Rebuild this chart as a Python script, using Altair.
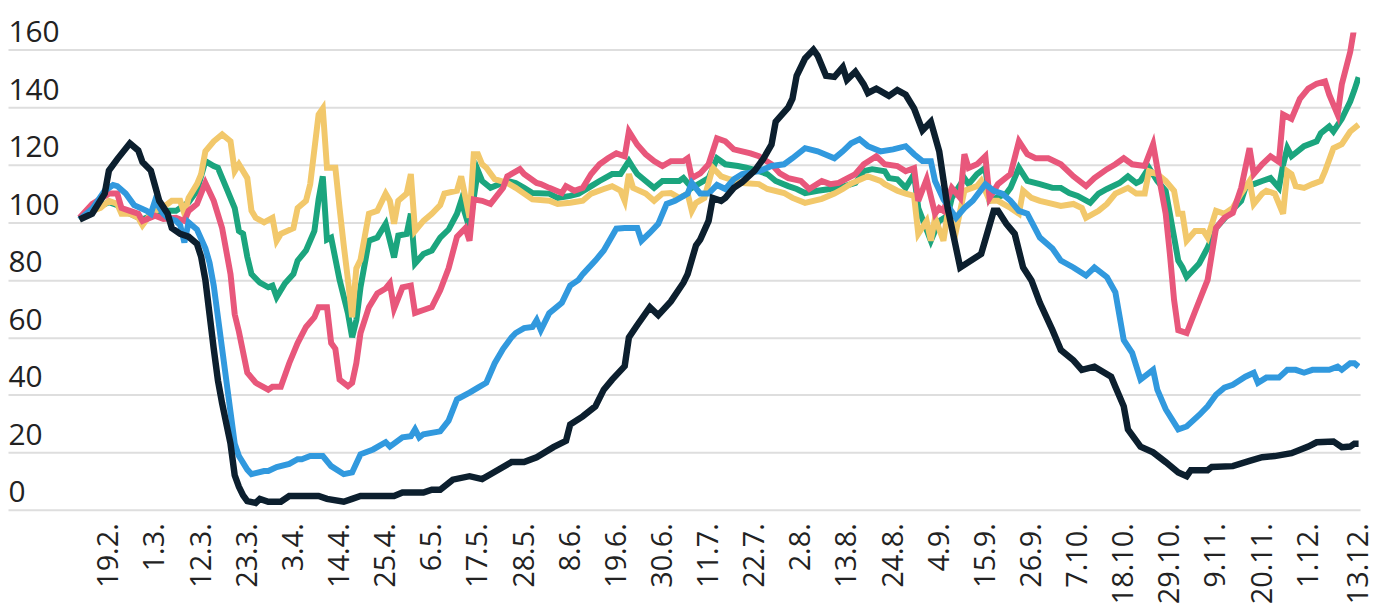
import altair as alt
import pandas as pd

# ---------------- data ----------------
black_dates = ["12.2", "15.2", "18.2", "19.2", "21.2", "24.2", "26.2", "27.2", "29.2", "2.3",
               "4.3", "5.3", "7.3", "9.3", "11.3", "12.3", "13.3", "14.3", "15.3", "16.3",
               "17.3", "18.3", "19.3", "20.3", "21.3", "22.3", "23.3", "25.3", "26.3", "28.3",
               "31.3", "2.4", "9.4", "11.4", "15.4", "17.4", "19.4", "27.4", "29.4", "4.5",
               "6.5", "8.5", "11.5", "15.5", "18.5", "20.5", "25.5", "28.5", "31.5", "4.6",
               "7.6", "8.6", "11.6", "14.6", "16.6", "18.6", "21.6", "22.6", "24.6", "27.6",
               "29.6", "2.7", "5.7", "6.7", "8.7", "9.7", "11.7", "12.7", "14.7", "15.7",
               "17.7", "19.7", "22.7", "24.7", "26.7", "27.7", "30.7", "31.7", "1.8", "3.8",
               "5.8", "6.8", "8.8", "10.8", "12.8", "13.8", "15.8", "17.8", "18.8", "20.8",
               "23.8", "25.8", "27.8", "29.8", "31.8", "2.9", "4.9", "6.9", "9.9", "14.9",
               "17.9", "18.9", "20.9", "22.9", "24.9", "26.9", "28.9", "1.10", "3.10", "6.10",
               "8.10", "11.10", "15.10", "16.10", "18.10", "19.10", "22.10", "25.10", "28.10", "31.10",
               "2.11", "3.11", "7.11", "8.11", "13.11", "17.11", "20.11", "23.11", "27.11", "1.12",
               "3.12", "7.12", "9.12", "11.12", "12.12", "13.12"]
black_values = [101, 103, 110, 118, 122, 127.5, 125, 121, 118, 107.5,
                103, 98, 96, 95, 92.5, 88, 80, 68, 56, 45,
                37, 30, 23, 12, 8, 5, 3, 2.4, 3.8, 2.8,
                2.8, 4.8, 4.8, 3.8, 2.8, 3.8, 4.8, 4.8, 6, 6,
                7, 7, 10.5, 11.7, 10.7, 12.4, 16.6, 16.6, 18.3, 21.8,
                24, 29.7, 32.5, 36, 41.8, 45.3, 50, 60, 64.3, 70.5,
                67.7, 72.5, 79, 82, 92, 94, 100.5, 108.5, 107.5, 108.5,
                112, 114, 118, 122, 127, 135, 140, 143, 151, 157,
                160, 158, 151, 150.6, 154, 149.6, 152.4, 148, 145, 146.5,
                144, 146, 144.4, 139.6, 132, 135, 124.7, 105, 84.3, 89,
                104, 104, 99.5, 96, 84.3, 79.8, 72, 62.5, 55.6, 52,
                48.7, 49.8, 46.3, 42.8, 36, 28, 22, 20, 16.6, 13,
                11.7, 13.8, 13.8, 14.9, 15.2, 17, 18.3, 18.7, 19.7, 22,
                23.5, 23.8, 21.8, 22, 23, 23]

blue_dates = ["12.2", "15.2", "18.2", "20.2", "21.2", "23.2", "25.2", "28.2", "29.2", "1.3",
              "3.3", "4.3", "6.3", "7.3", "8.3", "9.3", "11.3", "13.3", "14.3", "15.3",
              "17.3", "19.3", "20.3", "21.3", "23.3", "24.3", "27.3", "28.3", "30.3", "2.4",
              "4.4", "5.4", "7.4", "10.4", "12.4", "15.4", "17.4", "19.4", "22.4", "25.4",
              "26.4", "29.4", "1.5", "2.5", "3.5", "4.5", "8.5", "10.5", "12.5", "15.5",
              "17.5", "19.5", "21.5", "23.5", "25.5", "26.5", "28.5", "30.5", "31.5", "1.6",
              "3.6", "6.6", "8.6", "10.6", "11.6", "14.6", "16.6", "19.6", "21.6", "24.6",
              "25.6", "27.6", "29.6", "1.7", "3.7", "6.7", "7.7", "9.7", "11.7", "13.7",
              "15.7", "17.7", "19.7", "23.7", "26.7", "29.7", "31.7", "3.8", "6.8", "10.8",
              "12.8", "14.8", "16.8", "18.8", "21.8", "24.8", "27.8", "29.8", "31.8", "2.9",
              "3.9", "5.9", "8.9", "10.9", "12.9", "15.9", "17.9", "19.9", "21.9", "23.9",
              "25.9", "28.9", "1.10", "3.10", "6.10", "9.10", "11.10", "14.10", "16.10", "18.10",
              "20.10", "22.10", "25.10", "26.10", "28.10", "31.10", "2.11", "5.11", "7.11", "9.11",
              "11.11", "13.11", "16.11", "18.11", "19.11", "21.11", "24.11", "26.11", "28.11", "30.11",
              "2.12", "6.12", "8.12", "9.12", "11.12", "12.12", "13.12"]
blue_values = [101, 104.7, 111, 113, 112.6, 110, 106, 104, 103, 107.5,
               103, 101.6, 100.5, 99, 93, 100, 97.5, 91, 86, 78,
               56, 34, 23, 18.7, 14, 12.4, 13.5, 13.5, 14.9, 16,
               17.6, 17.6, 18.7, 18.7, 15.2, 12.4, 13, 19.3, 21, 23.5,
               22, 25.2, 25.6, 28, 25.2, 26.3, 27.3, 31, 38.4, 40.8,
               42.5, 44.2, 51, 56, 60, 61.5, 63.2, 63.6, 66, 62.5,
               68.4, 72, 78, 80, 82, 86.7, 90.2, 97.8, 98, 98,
               93.6, 96.4, 99.5, 106.4, 107.5, 110, 113.7, 110, 110, 113,
               111.6, 115, 116.8, 117.8, 119.6, 120.2, 122.3, 125.8, 124.7, 122.3,
               124.7, 127.5, 128.9, 126.5, 124.7, 125.4, 126.5, 123.7, 121.3, 121.3,
               114.4, 108, 101.6, 105, 107.5, 113.3, 111, 110, 107.5, 104,
               103, 94.7, 90.9, 86.7, 84.3, 81.5, 84.3, 80.9, 75.7, 59,
               54.6, 45.3, 48.7, 41.8, 35, 28, 29, 33, 36, 40,
               42.5, 43.5, 46.3, 47.7, 44.2, 46, 46, 48.7, 48.7, 47.7,
               48.7, 48.7, 49.8, 48.7, 51, 51, 49.8]

red_dates = ["12.2", "15.2", "19.2", "21.2", "22.2", "24.2", "26.2", "27.2", "1.3", "3.3",
             "6.3", "8.3", "9.3", "11.3", "13.3", "15.3", "17.3", "19.3", "20.3", "21.3",
             "23.3", "25.3", "28.3", "29.3", "31.3", "2.4", "4.4", "6.4", "8.4", "9.4",
             "11.4", "12.4", "13.4", "14.4", "16.4", "17.4", "18.4", "19.4", "21.4", "23.4",
             "25.4", "26.4", "27.4", "29.4", "1.5", "2.5", "4.5", "6.5", "8.5", "10.5",
             "12.5", "14.5", "15.5", "16.5", "18.5", "20.5", "23.5", "24.5", "27.5", "28.5",
             "31.5", "1.6", "3.6", "6.6", "7.6", "9.6", "11.6", "13.6", "15.6", "17.6",
             "19.6", "21.6", "22.6", "24.6", "26.6", "28.6", "30.6", "2.7", "5.7", "6.7",
             "7.7", "9.7", "11.7", "13.7", "15.7", "17.7", "21.7", "23.7", "26.7", "28.7",
             "30.7", "2.8", "4.8", "7.8", "9.8", "11.8", "15.8", "17.8", "20.8", "22.8",
             "25.8", "27.8", "29.8", "30.8", "1.9", "3.9", "4.9", "5.9", "7.9", "9.9",
             "10.9", "11.9", "13.9", "15.9", "16.9", "18.9", "21.9", "23.9", "25.9", "27.9",
             "30.9", "3.10", "6.10", "9.10", "11.10", "14.10", "16.10", "18.10", "20.10", "23.10",
             "25.10", "26.10", "28.10", "29.10", "30.10", "31.10", "2.11", "4.11", "7.11", "9.11",
             "11.11", "13.11", "15.11", "17.11", "18.11", "20.11", "22.11", "24.11", "25.11", "27.11",
             "29.11", "1.12", "3.12", "5.12", "6.12", "8.12", "9.12", "11.12", "12.12", "13.12"]
red_values = [101.6, 106.4, 110, 110, 105, 104, 103, 100.5, 102.3, 101.2,
              101.6, 100.5, 104, 106.4, 113.7, 107.5, 98, 82, 68, 62,
              47.7, 44.2, 41.8, 42.8, 42.8, 51, 58, 63.6, 67, 70.5,
              70.5, 58, 56, 45.3, 43, 44.2, 51, 61.5, 70.5, 75.3,
              77, 78.8, 70, 77.4, 78, 68.5, 69.5, 70.5, 76.4, 84,
              95, 98, 93.6, 108, 107.5, 106.4, 112, 116, 118.5, 116.8,
              113.7, 113.3, 112, 110.2, 112.6, 111, 112, 116.8, 120.2, 122.3,
              124, 123, 131.6, 127, 123.7, 121.3, 119.6, 121.3, 121.3, 122.3,
              115.4, 117, 120.2, 129.2, 128.2, 125.4, 124, 123, 120.2, 117,
              115.4, 114.4, 111.6, 114.4, 113.3, 113.7, 116.8, 120.2, 123, 120.2,
              119.6, 117.8, 118.9, 107.5, 115, 103, 105, 104, 112, 108.5,
              123.7, 118.9, 120.2, 123, 108.5, 113.3, 116.8, 128.2, 123.7, 122.3,
              122.3, 120.2, 116, 112.6, 115.4, 118.5, 120.2, 122.3, 120.2, 119.6,
              127.2, 118.9, 103, 89, 73, 62.5, 61.5, 69, 80, 98,
              101.6, 103.3, 112, 125.8, 116.8, 120.2, 123, 121, 137.5, 136,
              143, 146.5, 148.2, 149, 144.4, 137.5, 148, 159.3, 168, 175]

green_dates = ["12.2", "15.2", "19.2", "21.2", "24.2", "27.2", "1.3", "4.3", "6.3", "9.3",
               "11.3", "13.3", "15.3", "16.3", "18.3", "20.3", "21.3", "22.3", "23.3", "24.3",
               "26.3", "28.3", "29.3", "30.3", "1.4", "3.4", "4.4", "6.4", "8.4", "9.4",
               "10.4", "11.4", "12.4", "14.4", "16.4", "17.4", "18.4", "19.4", "21.4", "23.4",
               "25.4", "27.4", "28.4", "30.4", "1.5", "2.5", "4.5", "6.5", "8.5", "10.5",
               "12.5", "13.5", "15.5", "16.5", "17.5", "18.5", "20.5", "24.5", "26.5", "28.5",
               "30.5", "3.6", "5.6", "8.6", "10.6", "13.6", "15.6", "18.6", "20.6", "22.6",
               "23.6", "24.6", "26.6", "28.6", "30.6", "4.7", "5.7", "7.7", "9.7", "11.7",
               "13.7", "15.7", "18.7", "20.7", "23.7", "25.7", "27.7", "30.7", "1.8", "3.8",
               "6.8", "9.8", "11.8", "15.8", "17.8", "19.8", "22.8", "23.8", "25.8", "27.8",
               "29.8", "30.8", "2.9", "4.9", "6.9", "7.9", "10.9", "11.9", "13.9", "15.9",
               "16.9", "20.9", "21.9", "23.9", "25.9", "28.9", "1.10", "3.10", "5.10", "7.10",
               "10.10", "12.10", "14.10", "17.10", "19.10", "21.10", "22.10", "24.10", "26.10", "28.10",
               "29.10", "31.10", "1.11", "2.11", "5.11", "7.11", "9.11", "12.11", "15.11", "16.11",
               "18.11", "20.11", "22.11", "24.11", "25.11", "26.11", "27.11", "30.11", "3.12", "4.12",
               "6.12", "7.12", "9.12", "11.12", "12.12", "13.12"]
green_values = [101, 104.5, 107, 106, 103, 101, 103, 104, 104, 107,
                111, 121.3, 119.6, 119, 112, 105, 97, 96, 88, 82,
                79, 77.4, 78, 74, 78.8, 82, 86.7, 90.2, 97, 108,
                116, 94, 94.7, 80, 68.4, 60, 66, 77.4, 93.6, 94.7,
                99.5, 87.8, 95.4, 96, 103, 85.7, 89, 90.2, 94.7, 97.5,
                103, 107.5, 98, 108.5, 118, 114.4, 112, 114.4, 113.7, 112,
                110.2, 110, 108.5, 109.2, 110, 112.6, 114.4, 116.8, 116.8, 121.3,
                119, 116.8, 114.4, 112, 114.4, 114.4, 115.4, 112, 113.7, 115.4,
                122.3, 120.2, 119.6, 119, 117.8, 116.8, 114.4, 112.6, 111.6, 110.2,
                111, 111.6, 112, 113.7, 117.8, 118.5, 117.8, 115.4, 115, 112,
                116.8, 105, 93.6, 100.5, 102.3, 108.5, 115.4, 113.3, 116.8, 119,
                107.5, 110, 112, 119, 114.4, 113.3, 112, 112, 110.2, 109.2,
                106.8, 110, 111.6, 113.7, 116, 113.7, 114.4, 119, 114.4, 111,
                103, 86.7, 84.3, 81, 85.7, 91.2, 98, 103, 107.5, 112,
                113.3, 114.4, 115.4, 112, 120, 125.8, 123, 126.5, 128.2, 131,
                133.4, 131.6, 136, 142, 146, 150.5]

yellow_dates = ["12.2", "15.2", "17.2", "19.2", "21.2", "22.2", "24.2", "26.2", "27.2", "29.2",
                "4.3", "5.3", "7.3", "8.3", "9.3", "11.3", "12.3", "13.3", "15.3", "17.3",
                "19.3", "20.3", "21.3", "23.3", "24.3", "25.3", "27.3", "29.3", "30.3", "31.3",
                "3.4", "4.4", "6.4", "7.4", "9.4", "10.4", "11.4", "13.4", "14.4", "15.4",
                "16.4", "17.4", "18.4", "19.4", "21.4", "23.4", "25.4", "26.4", "27.4", "28.4",
                "30.4", "1.5", "2.5", "4.5", "6.5", "8.5", "9.5", "12.5", "13.5", "15.5",
                "16.5", "17.5", "18.5", "19.5", "21.5", "24.5", "26.5", "28.5", "30.5", "3.6",
                "5.6", "8.6", "11.6", "13.6", "16.6", "18.6", "20.6", "21.6", "22.6", "23.6",
                "26.6", "28.6", "30.6", "2.7", "4.7", "6.7", "7.7", "8.7", "10.7", "12.7",
                "14.7", "16.7", "19.7", "23.7", "25.7", "29.7", "31.7", "3.8", "5.8", "7.8",
                "10.8", "12.8", "14.8", "17.8", "18.8", "21.8", "22.8", "25.8", "27.8", "29.8",
                "30.8", "1.9", "2.9", "3.9", "5.9", "6.9", "8.9", "10.9", "13.9", "14.9",
                "16.9", "18.9", "21.9", "23.9", "24.9", "26.9", "28.9", "1.10", "3.10", "6.10",
                "8.10", "9.10", "12.10", "14.10", "16.10", "19.10", "21.10", "23.10", "24.10", "26.10",
                "28.10", "30.10", "31.10", "1.11", "2.11", "4.11", "6.11", "7.11", "9.11", "11.11",
                "13.11", "15.11", "17.11", "18.11", "20.11", "21.11", "23.11", "25.11", "26.11", "27.11",
                "28.11", "30.11", "2.12", "4.12", "5.12", "7.12", "9.12", "11.12", "13.12"]
yellow_values = [101, 104, 105, 107.5, 106.4, 103, 103, 101.6, 99, 103,
                 106.4, 107.5, 107.5, 103, 108.5, 113.3, 116.8, 124.7, 128.2, 130.6,
                 128.2, 117.8, 120.2, 115.4, 104, 101.6, 100, 101.6, 93.6, 96,
                 98, 105, 107.5, 113.3, 137.5, 139.6, 119, 119, 105, 92,
                 80, 67, 84, 87, 103, 104, 110, 107.5, 99.5, 107.5,
                 110, 116.8, 97, 100.5, 103, 106, 110, 111, 116, 101.6,
                 123.7, 123.7, 120.2, 119, 115, 113.7, 112, 110, 108, 107.5,
                 106.4, 106.8, 107.5, 110, 111.6, 112.6, 111, 107.5, 116.8, 112,
                 110, 107.5, 110, 110.2, 108.5, 110, 104, 106.8, 108.5, 119,
                 116, 115, 113.7, 113.3, 111.6, 110.2, 108.5, 106.8, 107.5, 108.2,
                 110, 111.6, 113.5, 115.4, 116, 114.4, 113.3, 111, 110, 109.2,
                 96, 100.5, 93.6, 101.6, 93.6, 103, 97, 111, 112.6, 114.4,
                 107.5, 107.5, 105, 103, 111, 108.5, 107.5, 106.4, 105.7, 106.4,
                 105, 101.6, 104, 106.4, 110, 112, 110, 110, 117.8, 116.8,
                 114.4, 111, 103, 103, 93.6, 97, 97, 94.7, 104, 103,
                 105, 110, 114.4, 106.4, 110, 111, 110, 103, 117.8, 116.8,
                 112.6, 112, 113.3, 114.4, 117.8, 125.8, 127.2, 131.6, 134]

tick_labels = ["19.2", "1.3", "12.3", "23.3", "3.4", "14.4", "25.4", "6.5", "17.5", "28.5",
               "8.6", "19.6", "30.6", "11.7", "22.7", "2.8", "13.8", "24.8", "4.9", "15.9",
               "26.9", "7.10", "18.10", "29.10", "9.11", "20.11", "1.12", "13.12"]
y_ticks = [0, 20, 40, 60, 80, 100, 120, 140, 160]

# drawing order: bottom -> top  (name, dates, values, colour, stroke width)
series = [
    ("green", green_dates, green_values, "#1ba57e", 6),
    ("yellow", yellow_dates, yellow_values, "#f2c86b", 6),
    ("red", red_dates, red_values, "#e8577b", 6),
    ("blue", blue_dates, blue_values, "#3199de", 6),
    ("black", black_dates, black_values, "#0c1f2e", 6.5),
]


def to_iso(s):
    d, m = s.split(".")
    return f"2020-{int(m):02d}-{int(d):02d}"


def dt(s):
    d, m = s.split(".")
    return alt.DateTime(year=2020, month=int(m), date=int(d), utc=True)


frames = []
for name, dates, vals, _c, _w in series:
    assert len(dates) == len(vals), (name, len(dates), len(vals))
    frames.append(pd.DataFrame({"date": [to_iso(s) for s in dates],
                                "value": vals, "series": name}))
df = pd.concat(frames, ignore_index=True)

FONT = "Open Sans"

x_enc = alt.X(
    "date:T",
    title=None,
    scale=alt.Scale(
        type="utc",
        domain=[alt.DateTime(year=2020, month=1, date=25, hours=22, minutes=30, utc=True),
                alt.DateTime(year=2020, month=12, date=13, hours=8, minutes=30, utc=True)],
    ),
    axis=alt.Axis(
        values=[dt(s) for s in tick_labels],
        labelExpr="utcFormat(datum.value, '%-d.%-m.')",
        labelAngle=-90, labelAlign="right", labelBaseline="middle",
        labelPadding=13, labelFlush=False, labelOverlap=False,
        labelFont=FONT, labelFontSize=29, labelColor="#222222",
        ticks=False, tickSize=0, domain=False, grid=False,
    ),
)

y_enc = alt.Y(
    "value:Q",
    title=None,
    scale=alt.Scale(domain=[0, 166], nice=False, zero=True),
    axis=alt.Axis(
        values=y_ticks,
        grid=True, gridColor="#dedede", gridWidth=2,
        domain=False, ticks=False, tickSize=0,
        labelAlign="left", labelBaseline="alphabetic",
        labelPadding=0, labelOffset=-8,
        labelFont=FONT, labelFontSize=30, labelColor="#222222",
    ),
)

layers = []
for name, _d, _v, color, width in series:
    layers.append(
        alt.Chart(df)
        .transform_filter(alt.datum.series == name)
        .mark_line(color=color, strokeWidth=width, clip=True)
        .encode(x=x_enc, y=y_enc)
    )

chart = (
    alt.layer(*layers)
    .properties(
        width=1360,
        height=480,
        autosize=alt.AutoSizeParams(type="none"),
        padding={"left": 0, "top": 23, "right": 13, "bottom": 100},
        background="white",
    )
    .configure_view(stroke=None)
)

chart.save("out.html", embed_options={"renderer": "svg", "actions": False})
